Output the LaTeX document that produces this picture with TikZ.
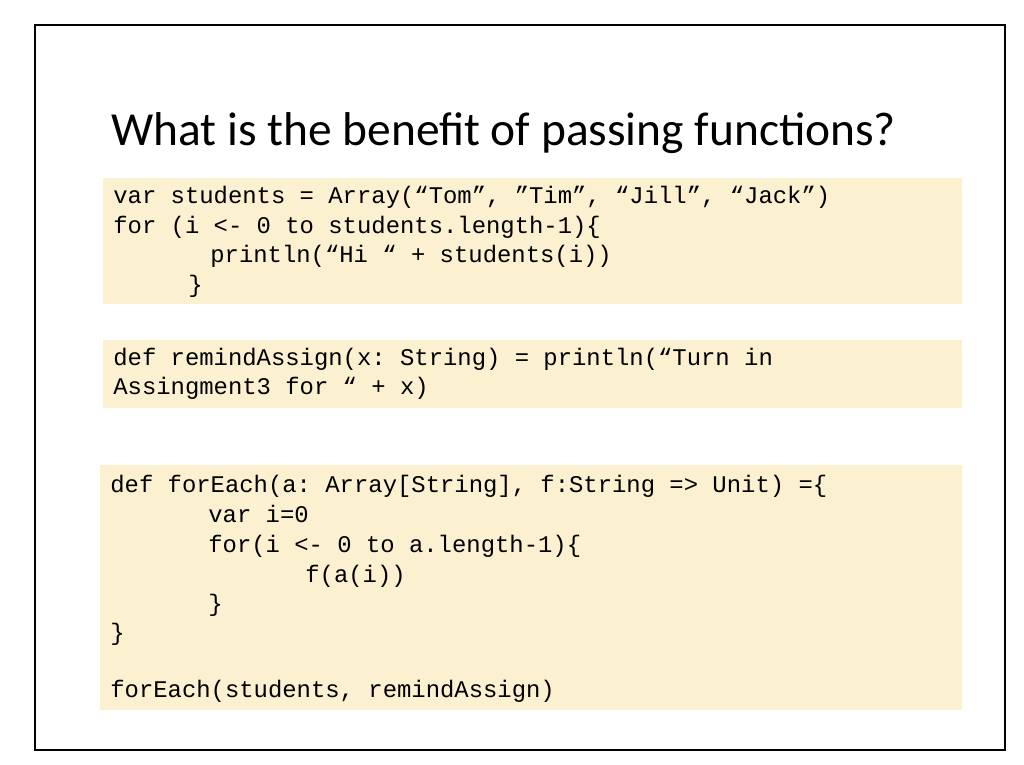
\documentclass[tikz,border=0pt]{standalone}
\usepackage{fontspec}
\setmainfont{Carlito}
\setmonofont{Liberation Mono}
\definecolor{codebg}{HTML}{FBF0CF}
\tikzset{
  code/.style={anchor=base west, inner sep=0pt, font=\ttfamily\fontsize{13.6}{16}\selectfont},
  codebox/.style={fill=codebg, draw=none}
}
\begin{document}
\begin{tikzpicture}[x=0.02cm,y=-0.02cm]
\useasboundingbox (0,0) rectangle (1024,764);
\draw[line width=1.2pt] (35,25) rectangle (1005,750);

  % Title
\node[anchor=base west, inner sep=0pt, font=\fontsize{27}{32}\selectfont] (title) at (111,145) {What is the benefit of passing functions?};

  % Code boxes
\fill[codebox] (103,178) rectangle (962,304);
\fill[codebox] (103,340) rectangle (962,408);
\fill[codebox] (100,465) rectangle (962,710);

\node[code] (a1) at (113,203) {var students = Array(“Tom”, ”Tim”, “Jill”, “Jack”)};
\node[code] (a2) at (113,233) {for (i <- 0 to students.length-1)\{};
\node[code] (a3) at (210,262) {println(“Hi “ + students(i))};
\node[code] (a4) at (188,292) {\}};

\node[code] (b1) at (113,365) {def remindAssign(x: String) = println(“Turn in};
\node[code] (b2) at (113,394) {Assingment3 for “ + x)};

\node[code] (c1) at (110,492) {def forEach(a: Array[String], f:String => Unit) =\{};
\node[code] (c2) at (208,522) {var i=0};
\node[code] (c3) at (208,552) {for(i <- 0 to a.length-1)\{};
\node[code] (c4) at (305,582) {f(a(i))};
\node[code] (c5) at (208,611) {\}};
\node[code] (c6) at (110,640) {\}};
\node[code] (c7) at (110,697) {forEach(students, remindAssign)};

\end{tikzpicture}
\end{document}
